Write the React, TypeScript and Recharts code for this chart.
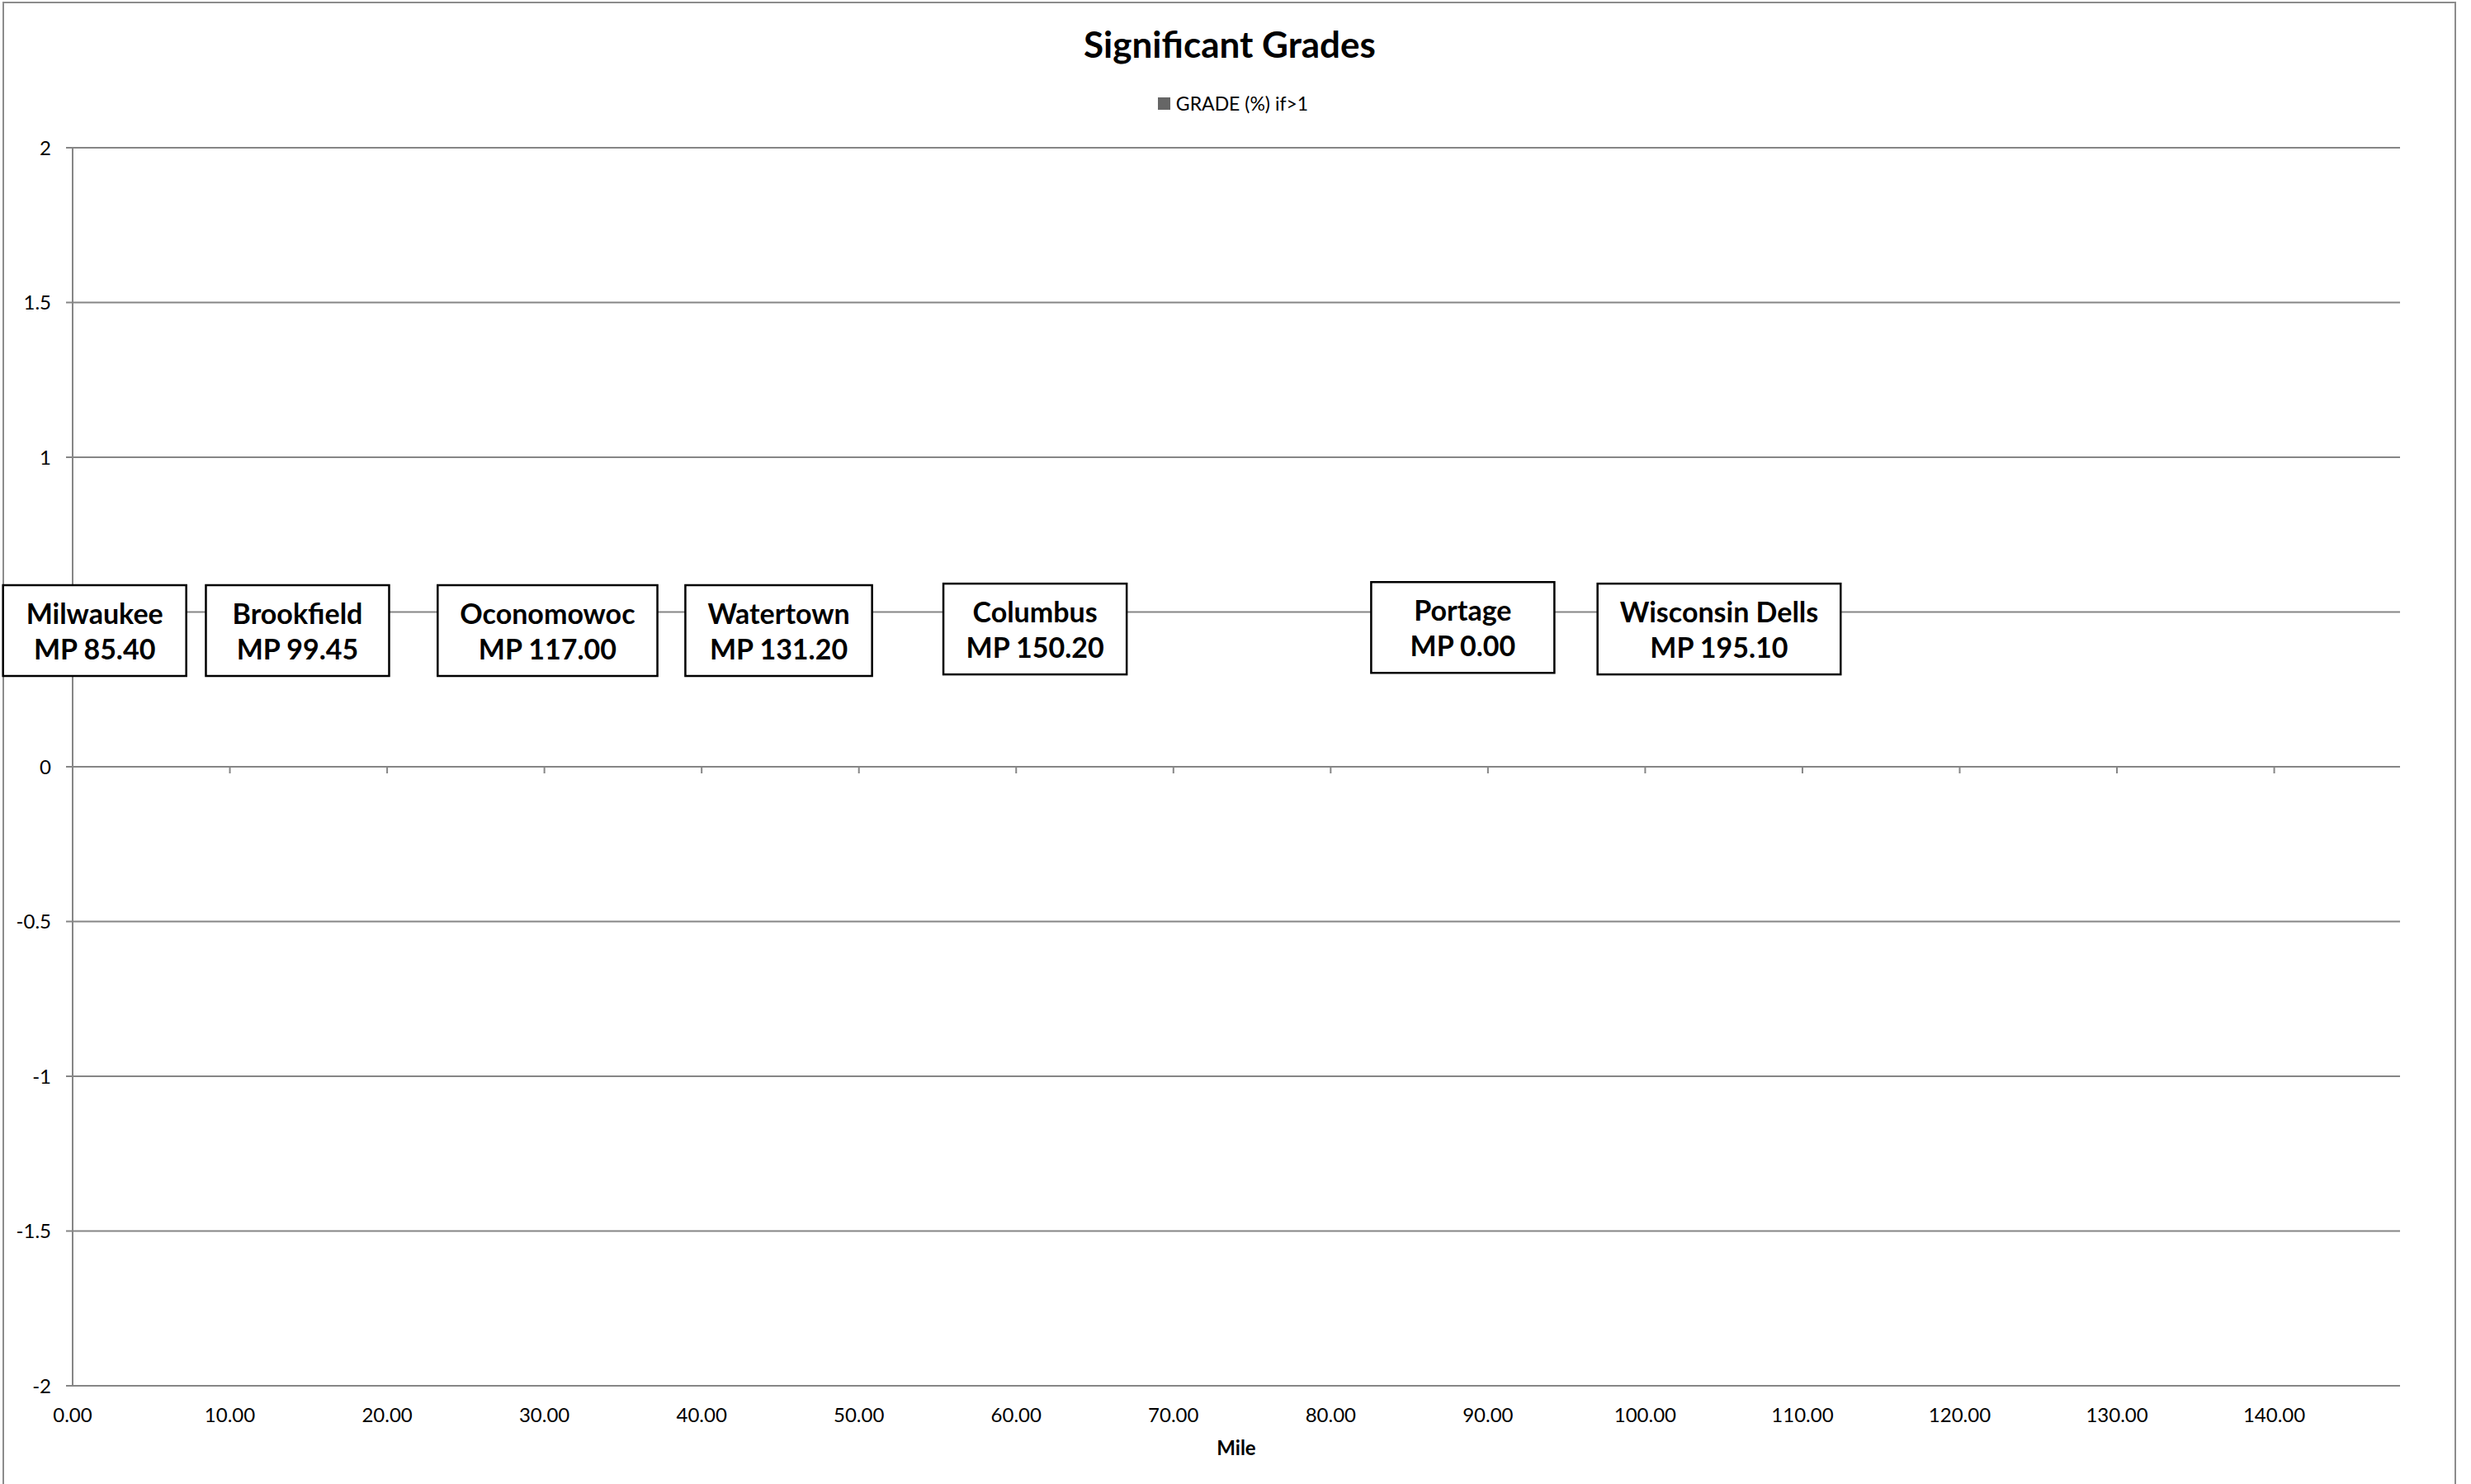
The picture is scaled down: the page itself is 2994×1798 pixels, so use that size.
import React from 'react';
import {
  ComposedChart,
  XAxis,
  YAxis,
  CartesianGrid,
  Bar,
  Scatter,
  Legend,
  ReferenceDot,
} from 'recharts';

// ---------- data ----------
const stationNames = ['Milwaukee', 'Brookfield', 'Oconomowoc', 'Watertown', 'Columbus', 'Portage', 'Wisconsin Dells'];
const stationMileposts = ['MP 85.40', 'MP 99.45', 'MP 117.00', 'MP 131.20', 'MP 150.20', 'MP 0.00', 'MP 195.10'];
const stationMiles = [1.4, 14.3, 30.2, 44.9, 61.2, 88.4, 104.7];
const stationLevels = [0.44, 0.44, 0.44, 0.44, 0.445, 0.45, 0.445];
// no grade exceeds 1% -> nothing to draw for this series
const gradeIfOver1: (number | null)[] = [null, null, null, null, null, null, null];

const xTicks = [0, 10, 20, 30, 40, 50, 60, 70, 80, 90, 100, 110, 120, 130, 140];
const yTicks = [-2, -1.5, -1, -0.5, 0, 0.5, 1, 1.5, 2];
const xDomain = [0, 148];
const yDomain = [-2, 2];

const chartTitle = 'Significant Grades';
const seriesName = 'GRADE (%) if>1';
const xAxisTitle = 'Mile';

// ---------- styles ----------
const W = 2994;
const H = 1798;
const FONT = 'Lato, "Open Sans", sans-serif';
const GRID = '#868686';
const LABEL_FONT_SIZE = 34;
const LABEL_PAD = 27;
const LABEL_MIN_W = 222;
const LABEL_H = 110;
const PLOT_MARGIN = { top: 179, right: 86, bottom: 119, left: 88 };

const rows = stationNames.map((name, i) => ({
  name,
  mp: stationMileposts[i],
  mile: stationMiles[i],
  level: stationLevels[i],
  grade: gradeIfOver1[i],
}));

let ctx: CanvasRenderingContext2D | null = null;
function measure(t: string): number {
  if (!ctx) {
    const c = document.createElement('canvas');
    ctx = c.getContext('2d');
  }
  if (!ctx) return t.length * LABEL_FONT_SIZE * 0.55;
  ctx.font = `bold ${LABEL_FONT_SIZE}px Lato`;
  return ctx.measureText(t).width;
}

const StationBox = (props: any) => {
  const { cx, cy, payload } = props;
  if (cx == null || cy == null) return null;
  const w = Math.max(LABEL_MIN_W, Math.max(measure(payload.name), measure(payload.mp)) + 2 * LABEL_PAD);
  return (
    <g>
      <rect x={cx - w / 2} y={cy - LABEL_H / 2} width={w} height={LABEL_H} fill="#fff" stroke="#000" strokeWidth={2.5} />
      <text x={cx} y={cy - 8} textAnchor="middle" fontFamily={FONT} fontWeight="bold" fontSize={LABEL_FONT_SIZE} fill="#000">
        {payload.name}
      </text>
      <text x={cx} y={cy + 35} textAnchor="middle" fontFamily={FONT} fontWeight="bold" fontSize={LABEL_FONT_SIZE} fill="#000">
        {payload.mp}
      </text>
    </g>
  );
};

const LegendContent = (props: any) => {
  const items = (props.payload || []).filter((p: any) => p.type !== 'none');
  return (
    <div style={{ display: 'flex', justifyContent: 'center', alignItems: 'center', height: 26, fontFamily: FONT, fontSize: 23, color: '#000' }}>
      {items.map((p: any) => (
        <div key={p.value} style={{ display: 'flex', alignItems: 'center', marginLeft: -6 }}>
          <span style={{ display: 'inline-block', width: 15, height: 15, background: p.color, marginRight: 7 }} />
          <span>{p.value}</span>
        </div>
      ))}
    </div>
  );
};

const TickMark = (props: any) => {
  const { cx, cy } = props;
  if (cx == null || cy == null) return null;
  return <line x1={cx} x2={cx} y1={cy} y2={cy + 8} stroke={GRID} strokeWidth={2} />;
};

export default function App() {
  return (
    <div style={{ position: 'absolute', left: 0, top: 0, width: W, height: H, overflow: 'hidden', background: '#fff' }}>
      <div
        style={{
          position: 'absolute',
          left: 3,
          top: 2,
          width: 2973,
          height: 1830,
          border: '2px solid #8c8c8c',
          boxSizing: 'border-box',
        }}
      />
      <svg style={{ position: 'absolute', left: 0, top: 0 }} width={W} height={120}>
        <text x={1490} y={70} textAnchor="middle" fontFamily={FONT} fontWeight="bold" fontSize={44} fill="#000">
          {chartTitle}
        </text>
      </svg>
      {/* base chart: grid, axes, legend, grade series */}
      <div style={{ position: 'absolute', left: 0, top: 0 }}>
        <ComposedChart width={W} height={H} data={rows} margin={{ top: PLOT_MARGIN.top, right: PLOT_MARGIN.right, bottom: 0, left: 0 }}>
          <CartesianGrid horizontal vertical={false} stroke={GRID} strokeWidth={2} />
          <XAxis
            dataKey="mile"
            type="number"
            domain={xDomain}
            ticks={xTicks}
            allowDataOverflow
            height={PLOT_MARGIN.bottom}
            axisLine={false}
            tickLine={false}
            tickSize={8}
            tickMargin={19}
            tickFormatter={(v: number) => v.toFixed(2)}
            tick={{ fontFamily: FONT, fontSize: 24, fill: '#000' }}
            label={(p: any) => {
              const vb = p.viewBox || {};
              return (
                <text x={vb.x + vb.width / 2} y={vb.y + 84} textAnchor="middle" fontFamily={FONT} fontWeight="bold" fontSize={24} fill="#000">
                  {xAxisTitle}
                </text>
              );
            }}
          />
          <YAxis
            type="number"
            domain={yDomain}
            ticks={yTicks}
            allowDataOverflow
            width={PLOT_MARGIN.left}
            axisLine={{ stroke: GRID, strokeWidth: 2 }}
            tickLine={{ stroke: GRID, strokeWidth: 2 }}
            tickSize={8}
            tickMargin={18}
            tick={{ fontFamily: FONT, fontSize: 24, fill: '#000' }}
          />
          <Legend
            layout="horizontal"
            verticalAlign="middle"
            align="center"
            height={26}
            wrapperStyle={{ top: 112, left: 0, width: W }}
            content={<LegendContent />}
          />
          {xTicks.map((t) => (
            <ReferenceDot key={t} x={t} y={0} r={0} shape={<TickMark />} isFront={false} />
          ))}
          <Bar dataKey="grade" name={seriesName} fill="#666666" barSize={10} legendType="square" isAnimationActive={false} />
        </ComposedChart>
      </div>
      {/* station label layer, drawn above the axes (same plot geometry) */}
      <div style={{ position: 'absolute', left: 0, top: 0 }}>
        <ComposedChart width={W} height={H} data={rows} margin={PLOT_MARGIN}>
          <XAxis dataKey="mile" type="number" domain={xDomain} ticks={xTicks} hide />
          <YAxis type="number" domain={yDomain} ticks={yTicks} hide />
          <Scatter dataKey="level" legendType="none" shape={<StationBox />} isAnimationActive={false} />
        </ComposedChart>
      </div>
    </div>
  );
}
